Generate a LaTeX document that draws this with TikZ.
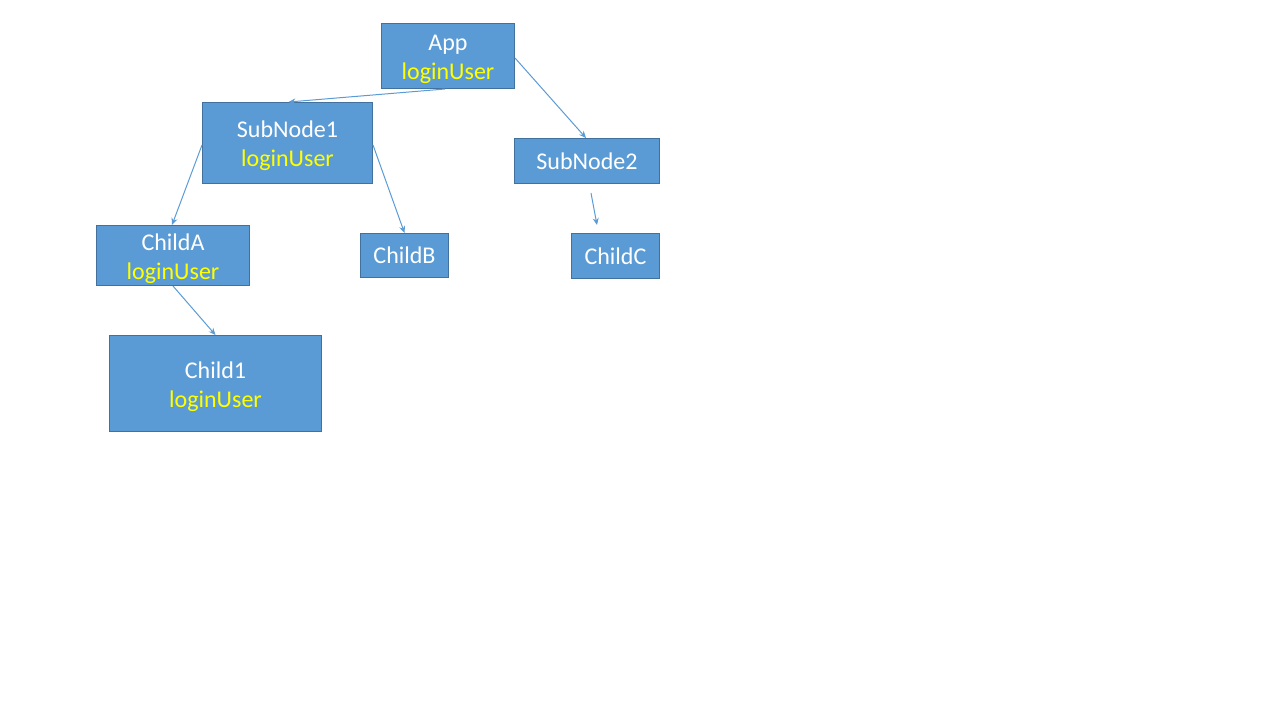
\documentclass[tikz,border=0pt]{standalone}
\usepackage{fontspec}
\setmainfont{Carlito}
\usetikzlibrary{arrows.meta}
\definecolor{boxfill}{HTML}{5B9BD5}
\definecolor{boxline}{HTML}{41719C}
\definecolor{ylw}{HTML}{FFFF00}
\tikzset{
  box/.style={draw=boxline, fill=boxfill, line width=1pt, inner sep=0pt, anchor=north west},
  lbl/.style={text=white, align=center, font=\fontsize{24}{29}\selectfont, inner sep=0pt, yshift=-3pt},
  lblone/.style={lbl, yshift=3pt},
  conn/.style={draw=boxfill, line width=1pt, -{Stealth[length=7pt,width=6pt]}},
}
\newcommand{\lu}{\textcolor{ylw}{loginUser}}
\begin{document}
\begin{tikzpicture}[x=1pt,y=-1pt]
\useasboundingbox (0,0) rectangle (1280,720);
\node[box, minimum width=133pt, minimum height=65pt, label={[lbl]center:App\\\lu}] (app) at (381,23) {};
\node[box, minimum width=170pt, minimum height=81pt, label={[lbl]center:SubNode1\\\lu}] (s1) at (202,102) {};
\node[box, minimum width=145pt, minimum height=45pt, label={[lblone]center:SubNode2}] (s2) at (514,138) {};
\node[box, minimum width=153pt, minimum height=60pt, label={[lbl]center:ChildA\\\lu}] (ca) at (96,225) {};
\node[box, minimum width=88pt, minimum height=44pt, label={[lblone]center:ChildB}] (cb) at (360,233) {};
\node[box, minimum width=88pt, minimum height=45pt, label={[lblone]center:ChildC}] (cc) at (571,233) {};
\node[box, minimum width=212pt, minimum height=96pt, label={[lbl]center:Child1\\\lu}] (c1) at (109,335) {};
\coordinate (cstart) at (591,193);
\coordinate (cend) at (597,225);
\draw[conn] ([xshift=-3pt]app.south) -- ([xshift=1pt]s1.north);
\draw[conn] ([yshift=-2pt]app.east) -- ([xshift=-1pt]s2.north);
\draw[conn] ([yshift=-2pt]s1.west) -- ([xshift=-1pt]ca.north);
\draw[conn] ([yshift=-2pt]s1.east) -- (cb.north);
\draw[conn] (cstart) -- (cend);
\draw[conn] (ca.south) -- (c1.north);
\end{tikzpicture}
\end{document}
